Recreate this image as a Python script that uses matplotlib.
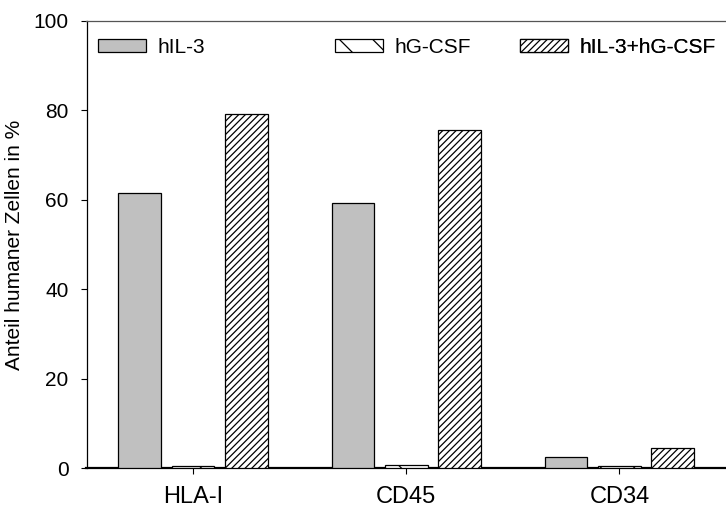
import numpy as np
import matplotlib
matplotlib.use("Agg")
from matplotlib import pyplot as plt
from matplotlib.patches import Patch

plt.rcParams['font.family'] = ['Liberation Sans', 'DejaVu Sans']
plt.rcParams['hatch.linewidth'] = 0.9

# Daten (Anteil humaner Zellen in %)
categories = ["HLA-I", "CD45", "CD34"]
series_names = ["hIL-3", "hG-CSF", "hIL-3+hG-CSF"]
hil3 = [61.6, 59.2, 2.6]
hgcsf = [0.5, 0.8, 0.5]
combo = [79.1, 75.5, 4.6]
yticks = [0, 20, 40, 60, 80, 100]

fig = plt.figure(figsize=(7.26, 5.11), dpi=100)
ax = fig.add_axes([86.5 / 726, 1 - 468.3 / 511, 1 - 86.5 / 726, (468.3 - 20.7) / 511])

x = np.arange(len(categories))
w = 0.2
styles = [
    dict(facecolor="#c0c0c0", hatch=None),
    dict(facecolor="white", hatch="\\"),
    dict(facecolor="white", hatch="/////"),
]
values = [hil3, hgcsf, combo]
for i, (vals, st) in enumerate(zip(values, styles)):
    # Balken ueber der Achsenlinie zeichnen, damit kleine Werte sichtbar bleiben
    ax.bar(x + (i - 1) * 0.25, vals, w, edgecolor="black", linewidth=0.9,
           zorder=3, **st)

ax.set_xlim(-0.5, 2.5)
ax.set_ylim(0, 100)
ax.set_xticks(x)
ax.set_xticklabels(categories, fontsize=17)
ax.set_yticks(yticks)
ax.set_yticklabels([str(t) for t in yticks], fontsize=15)
ax.tick_params(direction="out", length=4.3, width=0.8, pad=8.5)
ax.set_ylabel("Anteil humaner Zellen in %", fontsize=15, labelpad=7)

ax.spines["right"].set_visible(False)
ax.spines["top"].set_color("#555555")
ax.spines["top"].set_linewidth(0.9)
ax.spines["left"].set_linewidth(0.9)
ax.spines["bottom"].set_linewidth(1.6)

# Legende: drei einzelne Eintraege, frei platziert
leg_pos = [97.7, 335, 520]  # linke Kante der Symbole in Pixel
for name, st, px in zip(series_names, styles, leg_pos):
    h = Patch(edgecolor="black", linewidth=0.9, **st)
    leg = ax.legend([h], [name], loc="center left", frameon=False,
                    fontsize=15, handlelength=2.3, handleheight=0.58,
                    handletextpad=0.55, borderpad=0, borderaxespad=0,
                    bbox_to_anchor=(px / 726, 1 - 47 / 511),
                    bbox_transform=fig.transFigure)
    ax.add_artist(leg)

fig.savefig("out.png", dpi=100)
